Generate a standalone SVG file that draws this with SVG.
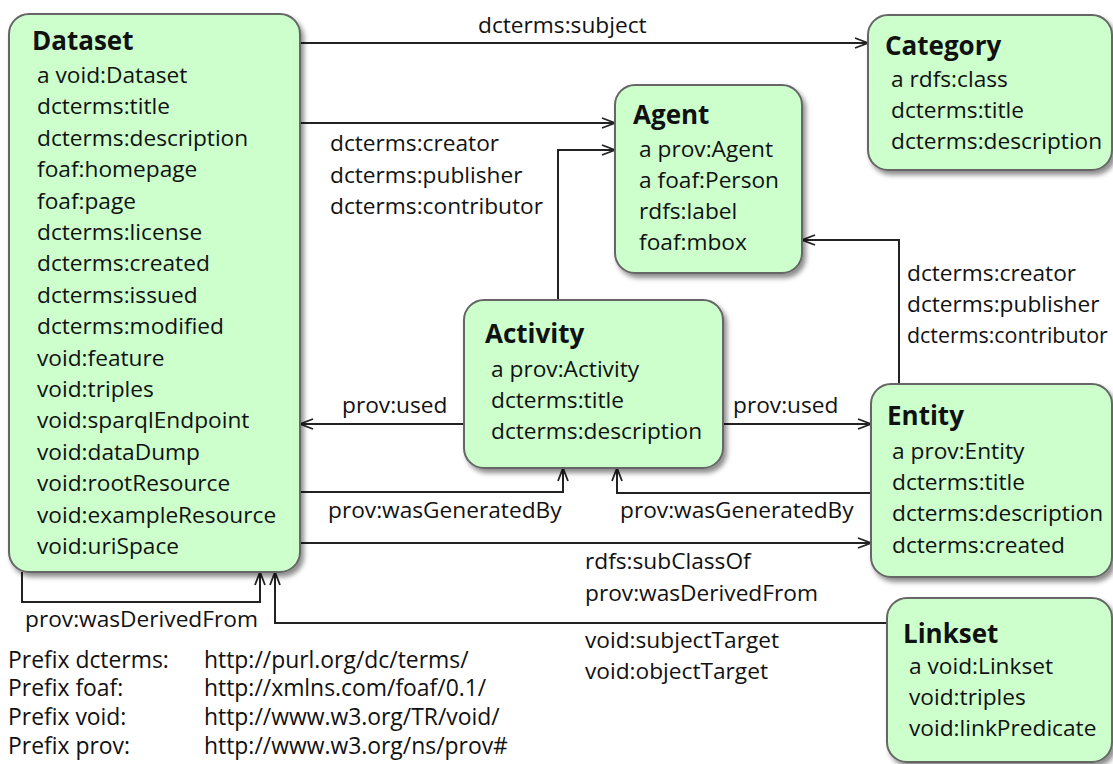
<svg xmlns="http://www.w3.org/2000/svg" width="1113" height="764" viewBox="0 0 1113 764">
<style>
.box{fill:#ccffcc;stroke:#666;stroke-width:2;filter:url(#sh)}
.t{font-family:"Open Sans","Liberation Sans",sans-serif;font-size:22.7px;fill:#111}
.p{font-family:"Open Sans","Liberation Sans",sans-serif;font-size:22.9px;fill:#111}
.h{font-family:"Open Sans","Liberation Sans",sans-serif;font-size:26px;font-weight:bold;fill:#111}
.c{fill:none;stroke:#222;stroke-width:2}
.a{marker-end:url(#arr)}
</style>
<defs>
<filter id="sh" x="-10%" y="-10%" width="130%" height="130%">
<feDropShadow dx="3" dy="4" stdDeviation="2.5" flood-color="#000" flood-opacity="0.45"/>
</filter>
<marker id="arr" markerUnits="userSpaceOnUse" markerWidth="18" markerHeight="14" refX="14" refY="6" orient="auto">
<path d="M1,1 L14,6 L1,11" fill="none" stroke="#222" stroke-width="1.8"/>
</marker>
</defs>
<rect width="1113" height="764" fill="#fff"/>
<g id="connectors">
<path class="c a" d="M300,43 H868"/>
<path class="c a" d="M300,123 H615"/>
<path class="c a" d="M558,300 V150 H615"/>
<path class="c a" d="M899,384 V240 H802"/>
<path class="c a" d="M464,424 H300"/>
<path class="c a" d="M723,424 H871"/>
<path class="c a" d="M300,492 H563 V468"/>
<path class="c a" d="M871,493 H617 V468"/>
<path class="c a" d="M300,543 H871"/>
<path class="c a" d="M22,572 V602 H260 V572"/>
<path class="c a" d="M887,623 H275 V572"/>
<text class="t" x="478" y="33">dcterms:subject</text>
<text class="t" x="330" y="151">dcterms:creator</text>
<text class="t" x="330" y="183">dcterms:publisher</text>
<text class="t" x="330" y="214">dcterms:contributor</text>
<text class="t" x="907" y="281">dcterms:creator</text>
<text class="t" x="907" y="312">dcterms:publisher</text>
<text class="t" x="907" y="343" style="font-size:21.4px">dcterms:contributor</text>
<text class="t" x="342" y="413">prov:used</text>
<text class="t" x="733" y="413">prov:used</text>
<text class="t" x="328" y="518">prov:wasGeneratedBy</text>
<text class="t" x="620" y="518">prov:wasGeneratedBy</text>
<text class="t" x="585" y="569">rdfs:subClassOf</text>
<text class="t" x="585" y="601">prov:wasDerivedFrom</text>
<text class="t" x="25" y="627">prov:wasDerivedFrom</text>
<text class="t" x="585" y="648">void:subjectTarget</text>
<text class="t" x="585" y="679">void:objectTarget</text>
</g>
<g id="dataset">
<rect class="box" x="9" y="14" width="291" height="558" rx="20"/>
<text class="h" x="32" y="50">Dataset</text>
<text class="t" x="37" y="83">a void:Dataset</text>
<text class="t" x="37" y="114.4">dcterms:title</text>
<text class="t" x="37" y="145.8">dcterms:description</text>
<text class="t" x="37" y="177.2">foaf:homepage</text>
<text class="t" x="37" y="208.6">foaf:page</text>
<text class="t" x="37" y="240">dcterms:license</text>
<text class="t" x="37" y="271.4">dcterms:created</text>
<text class="t" x="37" y="302.8">dcterms:issued</text>
<text class="t" x="37" y="334.2">dcterms:modified</text>
<text class="t" x="37" y="365.6">void:feature</text>
<text class="t" x="37" y="397">void:triples</text>
<text class="t" x="37" y="428.4">void:sparqlEndpoint</text>
<text class="t" x="37" y="459.8">void:dataDump</text>
<text class="t" x="37" y="491.2">void:rootResource</text>
<text class="t" x="37" y="522.6">void:exampleResource</text>
<text class="t" x="37" y="554">void:uriSpace</text>
</g>
<g id="category">
<rect class="box" x="868" y="15" width="244" height="155" rx="20"/>
<text class="h" x="885" y="55">Category</text>
<text class="t" x="891" y="87">a rdfs:class</text>
<text class="t" x="891" y="118">dcterms:title</text>
<text class="t" x="891" y="149">dcterms:description</text>
</g>
<g id="agent">
<rect class="box" x="615" y="85" width="187" height="188" rx="20"/>
<text class="h" x="633" y="124">Agent</text>
<text class="t" x="639" y="157">a prov:Agent</text>
<text class="t" x="639" y="188">a foaf:Person</text>
<text class="t" x="639" y="219">rdfs:label</text>
<text class="t" x="639" y="250">foaf:mbox</text>
</g>
<g id="activity">
<rect class="box" x="464" y="300" width="259" height="168" rx="20"/>
<text class="h" x="485" y="343">Activity</text>
<text class="t" x="491" y="377">a prov:Activity</text>
<text class="t" x="491" y="408">dcterms:title</text>
<text class="t" x="491" y="439">dcterms:description</text>
</g>
<g id="entity">
<rect class="box" x="871" y="384" width="241" height="193" rx="20"/>
<text class="h" x="887" y="425">Entity</text>
<text class="t" x="892" y="459">a prov:Entity</text>
<text class="t" x="892" y="490">dcterms:title</text>
<text class="t" x="892" y="521">dcterms:description</text>
<text class="t" x="892" y="553">dcterms:created</text>
</g>
<g id="linkset">
<rect class="box" x="887" y="598" width="225" height="164" rx="20"/>
<text class="h" x="903" y="643">Linkset</text>
<text class="t" x="909" y="674">a void:Linkset</text>
<text class="t" x="909" y="705">void:triples</text>
<text class="t" x="909" y="736">void:linkPredicate</text>
</g>
<g id="prefixes">
<text class="p" x="8" y="667.5">Prefix dcterms:</text>
<text class="p" x="204" y="667.5">http://purl.org/dc/terms/</text>
<text class="p" x="8" y="696.3">Prefix foaf:</text>
<text class="p" x="204" y="696.3">http://xmlns.com/foaf/0.1/</text>
<text class="p" x="8" y="725.1">Prefix void:</text>
<text class="p" x="204" y="725.1">http://www.w3.org/TR/void/</text>
<text class="p" x="8" y="754">Prefix prov:</text>
<text class="p" x="204" y="754">http://www.w3.org/ns/prov#</text>
</g>
</svg>
